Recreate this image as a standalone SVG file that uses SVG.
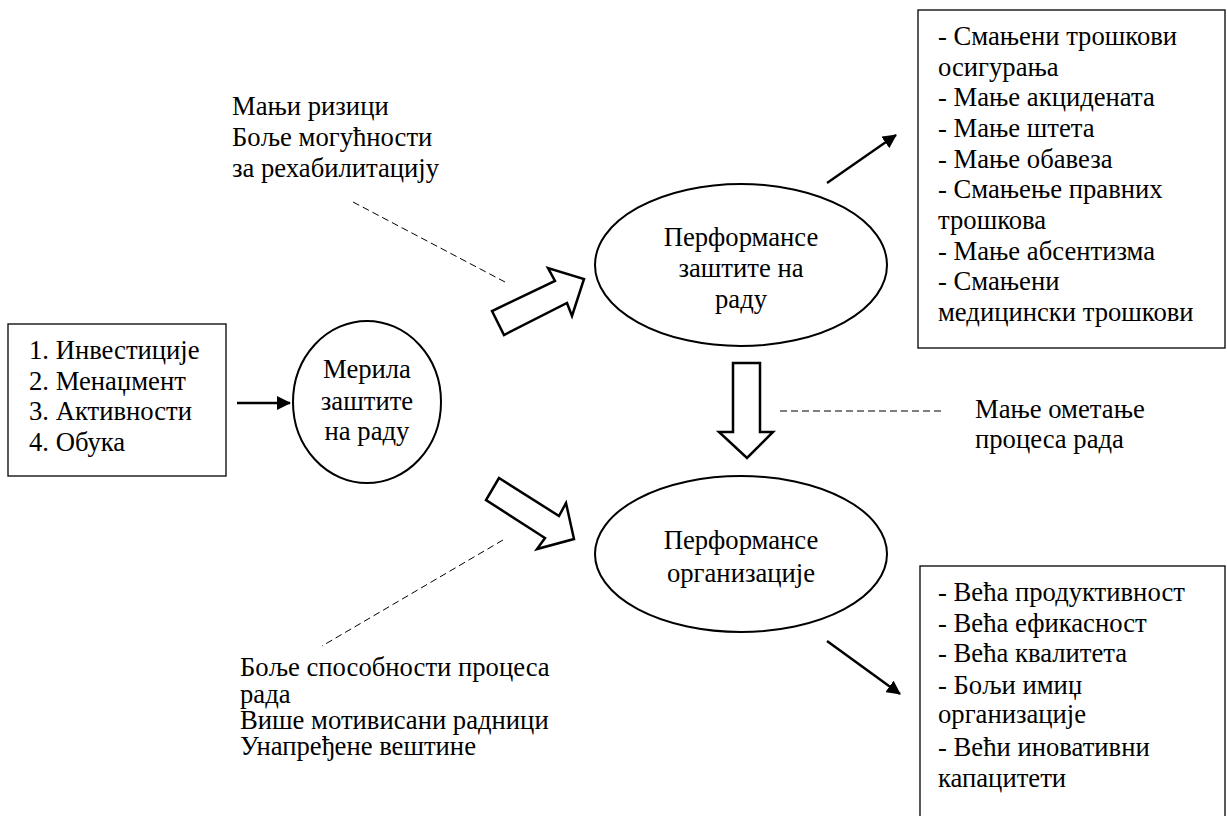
<svg xmlns="http://www.w3.org/2000/svg" width="1227" height="816" viewBox="0 0 1227 816" font-family="'Liberation Serif', 'DejaVu Serif', 'Times New Roman', serif">
<defs>
<style>
text{font-family:'Liberation Serif','DejaVu Serif','Times New Roman',serif;font-size:26.67px;fill:#000}
.box{fill:#fff;stroke:#000;stroke-width:1.3}
.ell{fill:#fff;stroke:#000;stroke-width:2}
.blk{fill:#fff;stroke:#000;stroke-width:2.5;stroke-linejoin:miter}
.ln{stroke:#000;stroke-width:2.5;fill:none}
.dash{stroke:#000;stroke-width:1;stroke-dasharray:7,4;fill:none}
.mid{text-anchor:middle}
</style>
<marker id="ah2" markerWidth="14" markerHeight="14" refX="13" refY="7" orient="auto" markerUnits="userSpaceOnUse" viewBox="0 0 14 14">
<path d="M0,0 L14,7 L0,14 z" fill="#000"/>
</marker>
</defs>
<rect width="1227" height="816" fill="#fff"/>

<g id="inputs">
<rect class="box" x="8" y="324" width="218" height="152"/>
<text x="29" y="359">1. Инвестиције</text>
<text x="29" y="390">2. Менаџмент</text>
<text x="29" y="420">3. Активности</text>
<text x="29" y="451">4. Обука</text>
</g>

<g id="merila">
<ellipse class="ell" cx="367" cy="402" rx="74" ry="81"/>
<text class="mid" x="367" y="378">Мерила</text>
<text class="mid" x="367" y="410">заштите</text>
<text class="mid" x="367" y="440">на раду</text>
</g>

<g id="perf-zastite">
<ellipse class="ell" cx="741" cy="265" rx="146" ry="81"/>
<text class="mid" x="741" y="246">Перформансе</text>
<text class="mid" x="741" y="277">заштите на</text>
<text class="mid" x="741" y="308">раду</text>
</g>

<g id="perf-org">
<ellipse class="ell" cx="741" cy="554" rx="146" ry="78"/>
<text class="mid" x="741" y="549">Перформансе</text>
<text class="mid" x="741" y="582">организације</text>
</g>

<g id="results-top">
<rect class="box" x="918" y="10" width="307" height="338"/>
<text x="938" y="45">- Смањени трошкови</text>
<text x="938" y="76">осигурања</text>
<text x="938" y="106">- Мање акцидената</text>
<text x="938" y="137">- Мање штета</text>
<text x="938" y="168">- Мање обавеза</text>
<text x="938" y="198">- Смањење правних</text>
<text x="938" y="229">трошкова</text>
<text x="938" y="260">- Мање абсентизма</text>
<text x="938" y="290">- Смањени</text>
<text x="938" y="321">медицински трошкови</text>
</g>

<g id="results-bottom">
<rect class="box" x="920" y="566" width="305" height="260"/>
<text x="938" y="601">- Већа продуктивност</text>
<text x="938" y="632">- Већа ефикасност</text>
<text x="938" y="662">- Већа квалитета</text>
<text x="938" y="694">- Бољи имиџ</text>
<text x="938" y="723">организације</text>
<text x="938" y="756">- Већи иновативни</text>
<text x="938" y="787">капацитети</text>
</g>

<g id="note-top">
<text x="232" y="115">Мањи ризици</text>
<text x="232" y="146">Боље могућности</text>
<text x="232" y="177">за рехабилитацију</text>
</g>

<g id="note-right">
<text x="975" y="418">Мање ометање</text>
<text x="975" y="448">процеса рада</text>
</g>

<g id="note-bottom">
<text x="240" y="676">Боље способности процеса</text>
<text x="240" y="703">рада</text>
<text x="240" y="729">Више мотивисани радници</text>
<text x="240" y="755">Унапређене вештине</text>
</g>

<g id="connectors">
<line class="ln" x1="237" y1="403" x2="290" y2="403" marker-end="url(#ah2)"/>
<line class="ln" x1="827" y1="183" x2="896" y2="135" marker-end="url(#ah2)"/>
<line class="ln" x1="827" y1="641" x2="900" y2="694" marker-end="url(#ah2)"/>
<polygon class="blk" points="492,311 504,335 567,303 572,316 584,279 548,268 555,281"/>
<polygon class="blk" points="499,478 486,500 545,538 537,549 574,539 566,503 559,516"/>
<polygon class="blk" points="733,363 760,363 760,432 773,432 747,458 719,432 733,432"/>
<line class="dash" x1="353" y1="202" x2="505" y2="282"/>
<line class="dash" x1="503" y1="540" x2="322" y2="646"/>
<line class="dash" x1="780" y1="411" x2="942" y2="411"/>
</g>
</svg>
